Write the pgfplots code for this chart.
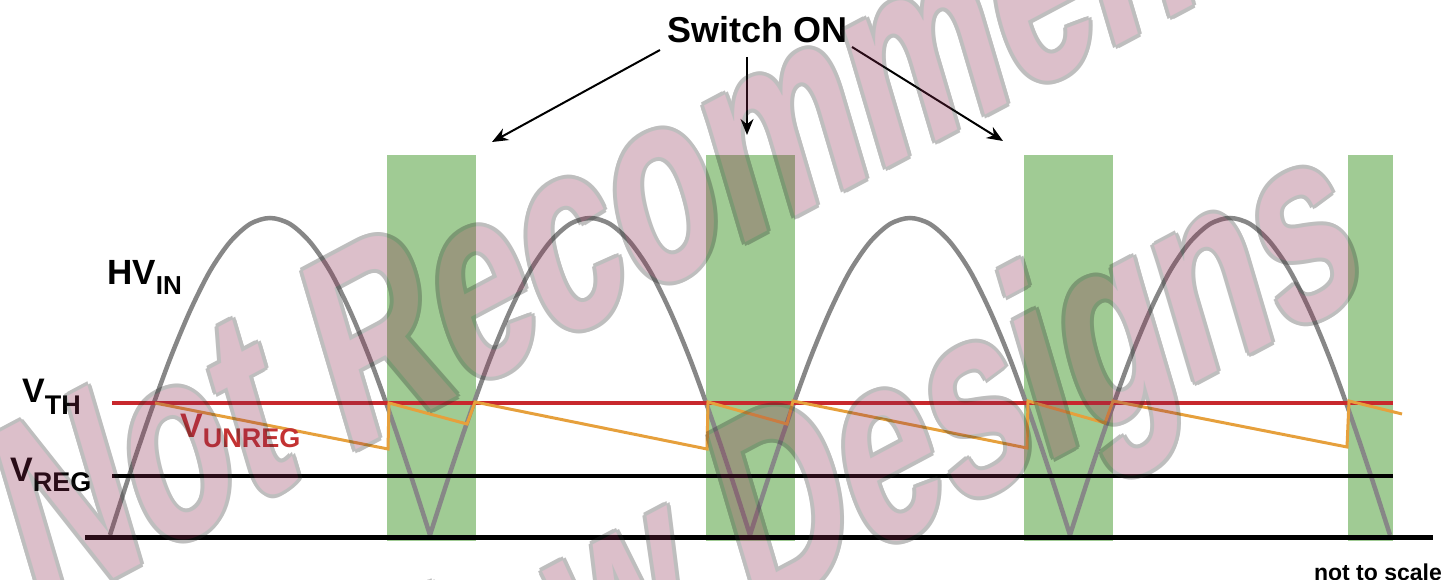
\documentclass[border=0pt]{standalone}
\usepackage{fontspec}
\setmainfont{Liberation Sans}
\newfontfamily\wmfont{Liberation Sans}[BoldFeatures={FakeSlant=0.3}]
\usepackage{pgfplots}
\pgfplotsset{compat=1.18}
\usetikzlibrary{arrows.meta}

\definecolor{gbar}{RGB}{160,203,148}
\definecolor{hvgray}{RGB}{135,135,135}
\definecolor{vth}{RGB}{200,40,45}
\definecolor{vun}{RGB}{230,160,60}
\definecolor{lblred}{RGB}{195,50,50}
\definecolor{wm}{RGB}{138,42,78}
\definecolor{wmline}{RGB}{40,40,40}

\newcommand\wmtext[1]{\scalebox{0.68}[1]{\wmfont\bfseries\fontsize{265}{265}\selectfont #1}}

\begin{document}
\begin{tikzpicture}
\begin{axis}[
    width=1447pt, height=580pt, scale only axis,
    xmin=0, xmax=1447, ymin=0, ymax=580,
    hide axis, clip=false,
]
    % switch-on windows
    \addplot[fill=gbar, draw=none] coordinates {(387,39) (387,425) (476,425) (476,39)};
    \addplot[fill=gbar, draw=none] coordinates {(706,39) (706,425) (795,425) (795,39)};
    \addplot[fill=gbar, draw=none] coordinates {(1024,39) (1024,425) (1113,425) (1113,39)};
    \addplot[fill=gbar, draw=none] coordinates {(1348,39) (1348,425) (1393,425) (1393,39)};

    % rectified input HV_IN, one arch per plot
    \addplot[hvgray, line width=4.5pt, smooth] coordinates {
        (110,45) (130,107) (150,166) (170,221) (190,269) (210,309) (230,338) (250,356) (270,362)
        (290,356) (310,338) (330,309) (350,269) (370,221) (390,166) (410,107) (430,45)};
    \addplot[hvgray, line width=4.5pt, smooth] coordinates {
        (430,45) (450,107) (470,166) (490,221) (510,269) (530,309) (550,338) (570,356) (590,362)
        (610,356) (630,338) (650,309) (670,269) (690,221) (710,166) (730,107) (750,45)};
    \addplot[hvgray, line width=4.5pt, smooth] coordinates {
        (750,45) (770,107) (790,166) (810,221) (830,269) (850,309) (870,338) (890,356) (910,362)
        (930,356) (950,338) (970,309) (990,269) (1010,221) (1030,166) (1050,107) (1070,45)};
    \addplot[hvgray, line width=4.5pt, smooth] coordinates {
        (1070,45) (1090,107) (1110,166) (1130,221) (1150,269) (1170,309) (1190,338) (1210,356) (1230,362)
        (1250,356) (1270,338) (1290,309) (1310,269) (1330,221) (1350,166) (1370,107) (1390,45)};

    % V_TH, V_REG and ground
    \addplot[vth, line width=4pt] coordinates {(112,177) (1393,177)};
    \addplot[black, line width=4pt] coordinates {(112,104) (1393,104)};
    \addplot[black, line width=5pt] coordinates {(85,42) (1433,42)};

    % V_UNREG sawtooth
    \addplot[vun, line width=3pt] coordinates {
        (155,177) (388,131) (389,177) (467,156) (475,178) (707,131) (708,178)
        (787,156) (793,179) (1027,132) (1028,179) (1105,157) (1113,179)
        (1347,133) (1349,179) (1402,166)};

    % labels
    \node[anchor=base west, inner sep=0] at (axis cs:107,295)
        {\fontsize{35}{40}\selectfont\bfseries HV\raisebox{-10pt}{\fontsize{26}{30}\selectfont IN}};
    \node[anchor=base west, inner sep=0] at (axis cs:22,177)
        {\fontsize{34}{40}\selectfont\bfseries V\raisebox{-12pt}{\fontsize{27}{30}\selectfont TH}};
    \node[anchor=base west, inner sep=0] at (axis cs:10,98)
        {\fontsize{34}{40}\selectfont\bfseries V\raisebox{-10pt}{\fontsize{27}{30}\selectfont REG}};
    \node[anchor=base west, inner sep=0, text=lblred] at (axis cs:180,142)
        {\fontsize{34}{40}\selectfont\bfseries V\raisebox{-10pt}{\fontsize{27}{30}\selectfont UNREG}};
    \node[anchor=base west, inner sep=0] at (axis cs:667,537)
        {\fontsize{36}{40}\selectfont\bfseries Switch ON};
    \node[anchor=base east, inner sep=0] at (axis cs:1442,-1)
        {\fontsize{23}{26}\selectfont\bfseries not to scale};

    % arrows
    \draw[line width=2pt, -{Stealth[length=16pt, width=13pt]}] (axis cs:660,530) -- (axis cs:492,438);
    \draw[line width=2pt, -{Stealth[length=16pt, width=13pt]}] (axis cs:747,523) -- (axis cs:747,445);
    \draw[line width=2pt, -{Stealth[length=16pt, width=13pt]}] (axis cs:852,533) -- (axis cs:1003,439);

    % watermark anchors
    \coordinate (wmA) at (axis cs:36,-40);
    \coordinate (wmB) at (axis cs:124,-373);
\end{axis}

% watermark: outlined, translucent
\begin{scope}[transparency group, opacity=0.3]
    \foreach \a in {0,45,...,315} {
        \node[shift={(\a:4pt)}, rotate=28, anchor=base west, inner sep=0, text=wmline] at (wmA) {\wmtext{Not Recommended}};
        \node[shift={(\a:4pt)}, rotate=28, anchor=base west, inner sep=0, text=wmline] at (wmB) {\wmtext{for New Designs}};
    }
    \node[rotate=28, anchor=base west, inner sep=0, text=wm] at (wmA) {\wmtext{Not Recommended}};
    \node[rotate=28, anchor=base west, inner sep=0, text=wm] at (wmB) {\wmtext{for New Designs}};
\end{scope}

\pgfresetboundingbox
\path[use as bounding box] (current axis.south west) rectangle (current axis.north east);
\end{tikzpicture}
\end{document}
